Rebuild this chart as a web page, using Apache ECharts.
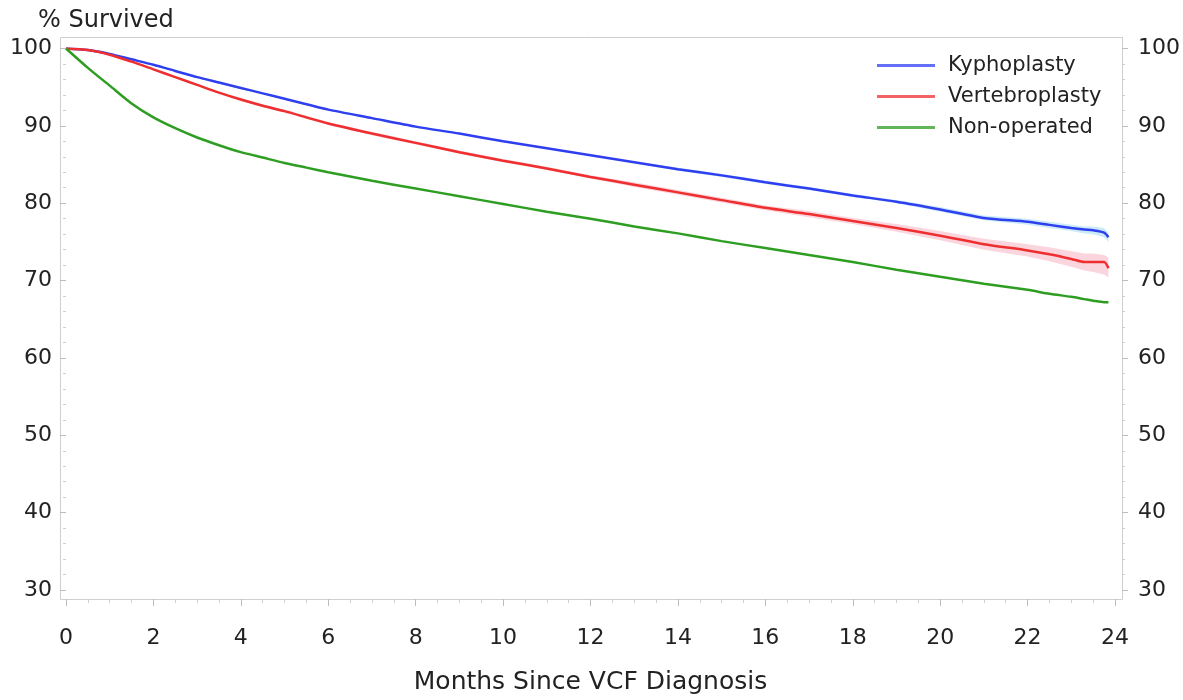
<!DOCTYPE html>
<html>
<head>
<meta charset="utf-8">
<script src="https://cdn.jsdelivr.net/npm/echarts@6/dist/echarts.min.js"></script>
<style>html,body{margin:0;padding:0;background:#fff;}#c{width:1183px;height:700px;}</style>
</head>
<body>
<div id="c"></div>
<script>
// ---- data ----
var months = [0, 0.5, 1, 1.5, 2, 2.5, 3, 3.5, 4, 4.5, 5, 5.5, 6, 7, 8, 9, 10, 11, 12, 13, 14, 15, 16, 17, 18, 19, 20, 21, 22, 22.5, 23, 23.3, 23.5, 23.75, 23.85];
var kypho = [100, 99.8, 99.3, 98.6, 97.9, 97.1, 96.3, 95.6, 94.9, 94.2, 93.5, 92.8, 92.1, 91.0, 89.9, 89.0, 88.0, 87.1, 86.2, 85.3, 84.4, 83.6, 82.7, 81.9, 81.0, 80.2, 79.2, 78.1, 77.6, 77.2, 76.8, 76.6, 76.5, 76.2, 75.6];
var kyphoLow = [100, 99.8, 99.2, 98.5, 97.8, 97.0, 96.2, 95.5, 94.8, 94.1, 93.4, 92.7, 92.0, 90.9, 89.8, 88.9, 87.9, 87.0, 86.1, 85.2, 84.2, 83.4, 82.5, 81.7, 80.8, 80.0, 78.9, 77.8, 77.2, 76.8, 76.4, 76.1, 76.0, 75.6, 75.0];
var kyphoHigh = [100, 99.9, 99.4, 98.7, 98.0, 97.2, 96.4, 95.7, 95.0, 94.3, 93.6, 92.9, 92.2, 91.1, 90.0, 89.1, 88.1, 87.2, 86.3, 85.4, 84.6, 83.8, 82.9, 82.1, 81.2, 80.4, 79.5, 78.4, 78.0, 77.6, 77.2, 77.0, 77.0, 76.8, 76.2];
var verte = [100, 99.8, 99.2, 98.3, 97.3, 96.3, 95.3, 94.3, 93.4, 92.6, 91.9, 91.1, 90.3, 89.0, 87.8, 86.6, 85.5, 84.5, 83.4, 82.4, 81.4, 80.4, 79.4, 78.6, 77.7, 76.8, 75.8, 74.7, 73.9, 73.4, 72.8, 72.4, 72.4, 72.4, 71.6];
var verteLow = [100, 99.7, 99.1, 98.2, 97.2, 96.2, 95.2, 94.2, 93.2, 92.4, 91.7, 90.9, 90.1, 88.8, 87.6, 86.4, 85.3, 84.3, 83.2, 82.1, 81.1, 80.1, 79.1, 78.2, 77.3, 76.3, 75.2, 74.0, 73.1, 72.5, 71.8, 71.3, 71.1, 70.8, 70.4];
var verteHigh = [100, 99.9, 99.3, 98.4, 97.4, 96.4, 95.4, 94.4, 93.6, 92.8, 92.1, 91.3, 90.5, 89.2, 88.0, 86.8, 85.7, 84.7, 83.6, 82.7, 81.7, 80.7, 79.7, 79.0, 78.1, 77.3, 76.4, 75.4, 74.7, 74.3, 73.8, 73.5, 73.5, 73.3, 73.0];
var nonop = [100, 97.5, 95.2, 92.9, 91.1, 89.7, 88.5, 87.5, 86.6, 85.9, 85.2, 84.6, 84.0, 82.9, 81.9, 80.9, 79.9, 78.9, 78.0, 77.0, 76.1, 75.1, 74.2, 73.3, 72.4, 71.4, 70.5, 69.6, 68.8, 68.3, 67.9, 67.6, 67.4, 67.2, 67.2];
var seriesNames = ['Kyphoplasty', 'Vertebroplasty', 'Non-operated'];
var xTicks = [0, 2, 4, 6, 8, 10, 12, 14, 16, 18, 20, 22, 24];
var yTicks = [30, 40, 50, 60, 70, 80, 90, 100];

// ---- build ----
function pairs(xs, ys) { return xs.map(function (x, i) { return [x, ys[i]]; }); }
function bandRows(xs, lo, hi) { return xs.map(function (x, i) { return [x, lo[i], hi[i]]; }); }

var FONT = 'DejaVu Sans';
var TXT = '#222';
var BLUE = '#2f3ff0', RED = '#ef2f2f', GREEN = '#2e9e22';

function yAxisDef(pos, offset, margin) {
  return {
    type: 'value', position: pos, offset: offset,
    min: yTicks[0], max: yTicks[yTicks.length - 1], interval: 10,
    axisLine: { show: false },
    axisTick: { show: true, length: 6, lineStyle: { color: '#bdbdbd', width: 1 } },
    minorTick: { show: true, splitNumber: 5, length: 3, lineStyle: { color: '#cfcfcf', width: 1 } },
    splitLine: { show: false },
    axisLabel: { margin: margin, color: TXT, fontFamily: FONT, fontSize: 22 }
  };
}

function bandSeries(name, rows, fill) {
  return {
    name: name, type: 'custom', data: rows, silent: true, z: 1,
    encode: { x: 0, y: [1, 2] },
    renderItem: function (params, api) {
      if (params.dataIndex !== 0) return null;
      var upper = [], lower = [];
      for (var i = 0; i < rows.length; i++) {
        upper.push(api.coord([rows[i][0], rows[i][2]]));
        lower.push(api.coord([rows[i][0], rows[i][1]]));
      }
      var pts = upper.concat(lower.reverse());
      return {
        type: 'polygon',
        shape: { points: pts, smooth: 0 },
        style: { fill: fill, stroke: null }
      };
    }
  };
}

var option = {
  animation: false,
  backgroundColor: '#fff',
  title: {
    text: '% Survived', left: 33, top: 4,
    textStyle: { fontFamily: FONT, fontSize: 24, fontWeight: 'normal', color: TXT }
  },
  legend: {
    data: seriesNames, orient: 'vertical', left: 877, top: 55, padding: 0,
    icon: 'rect', itemWidth: 58, itemHeight: 3, itemGap: 10,
    itemStyle: { opacity: 0.75 },
    textStyle: { fontFamily: FONT, fontSize: 21, color: TXT, lineHeight: 21, padding: [0, 0, 0, 8] }
  },
  graphic: [{
    type: 'rect', z: -10, silent: true,
    shape: { x: 60.5, y: 37.5, width: 1062, height: 562 },
    style: { fill: 'none', stroke: '#cfcfcf', lineWidth: 1 }
  }],
  grid: { left: 66, right: 68, top: 48.5, bottom: 110 },
  xAxis: {
    type: 'value', min: xTicks[0], max: xTicks[xTicks.length - 1], interval: 2, offset: 9,
    axisLine: { show: false },
    axisTick: { show: true, length: 7, lineStyle: { color: '#bdbdbd', width: 1 } },
    minorTick: { show: true, splitNumber: 4, length: 4, lineStyle: { color: '#cfcfcf', width: 1 } },
    splitLine: { show: false },
    axisLabel: { margin: 28, color: TXT, fontFamily: FONT, fontSize: 22 },
    name: 'Months Since VCF Diagnosis', nameLocation: 'middle', nameGap: 71,
    nameTextStyle: { fontFamily: FONT, fontSize: 25, color: TXT }
  },
  yAxis: [yAxisDef('left', 6, 8), yAxisDef('right', 7, 16)],
  series: [
    bandSeries('kBand', bandRows(months, kyphoLow, kyphoHigh), 'rgba(140,210,240,0.45)'),
    bandSeries('vBand', bandRows(months, verteLow, verteHigh), 'rgba(245,150,170,0.40)'),
    { name: seriesNames[0], type: 'line', data: pairs(months, kypho), showSymbol: false, symbol: 'none',
      color: BLUE, lineStyle: { color: BLUE, width: 2.5 }, smooth: 0.25, z: 3 },
    { name: seriesNames[1], type: 'line', data: pairs(months, verte), showSymbol: false, symbol: 'none',
      color: RED, lineStyle: { color: RED, width: 2.5 }, smooth: 0.25, z: 3 },
    { name: seriesNames[2], type: 'line', data: pairs(months, nonop), showSymbol: false, symbol: 'none',
      color: GREEN, lineStyle: { color: GREEN, width: 2.5 }, smooth: 0.25, z: 3 }
  ]
};
var chart = echarts.init(document.getElementById('c'), null, { renderer: 'canvas' });
chart.setOption(option);
</script>
</body>
</html>
